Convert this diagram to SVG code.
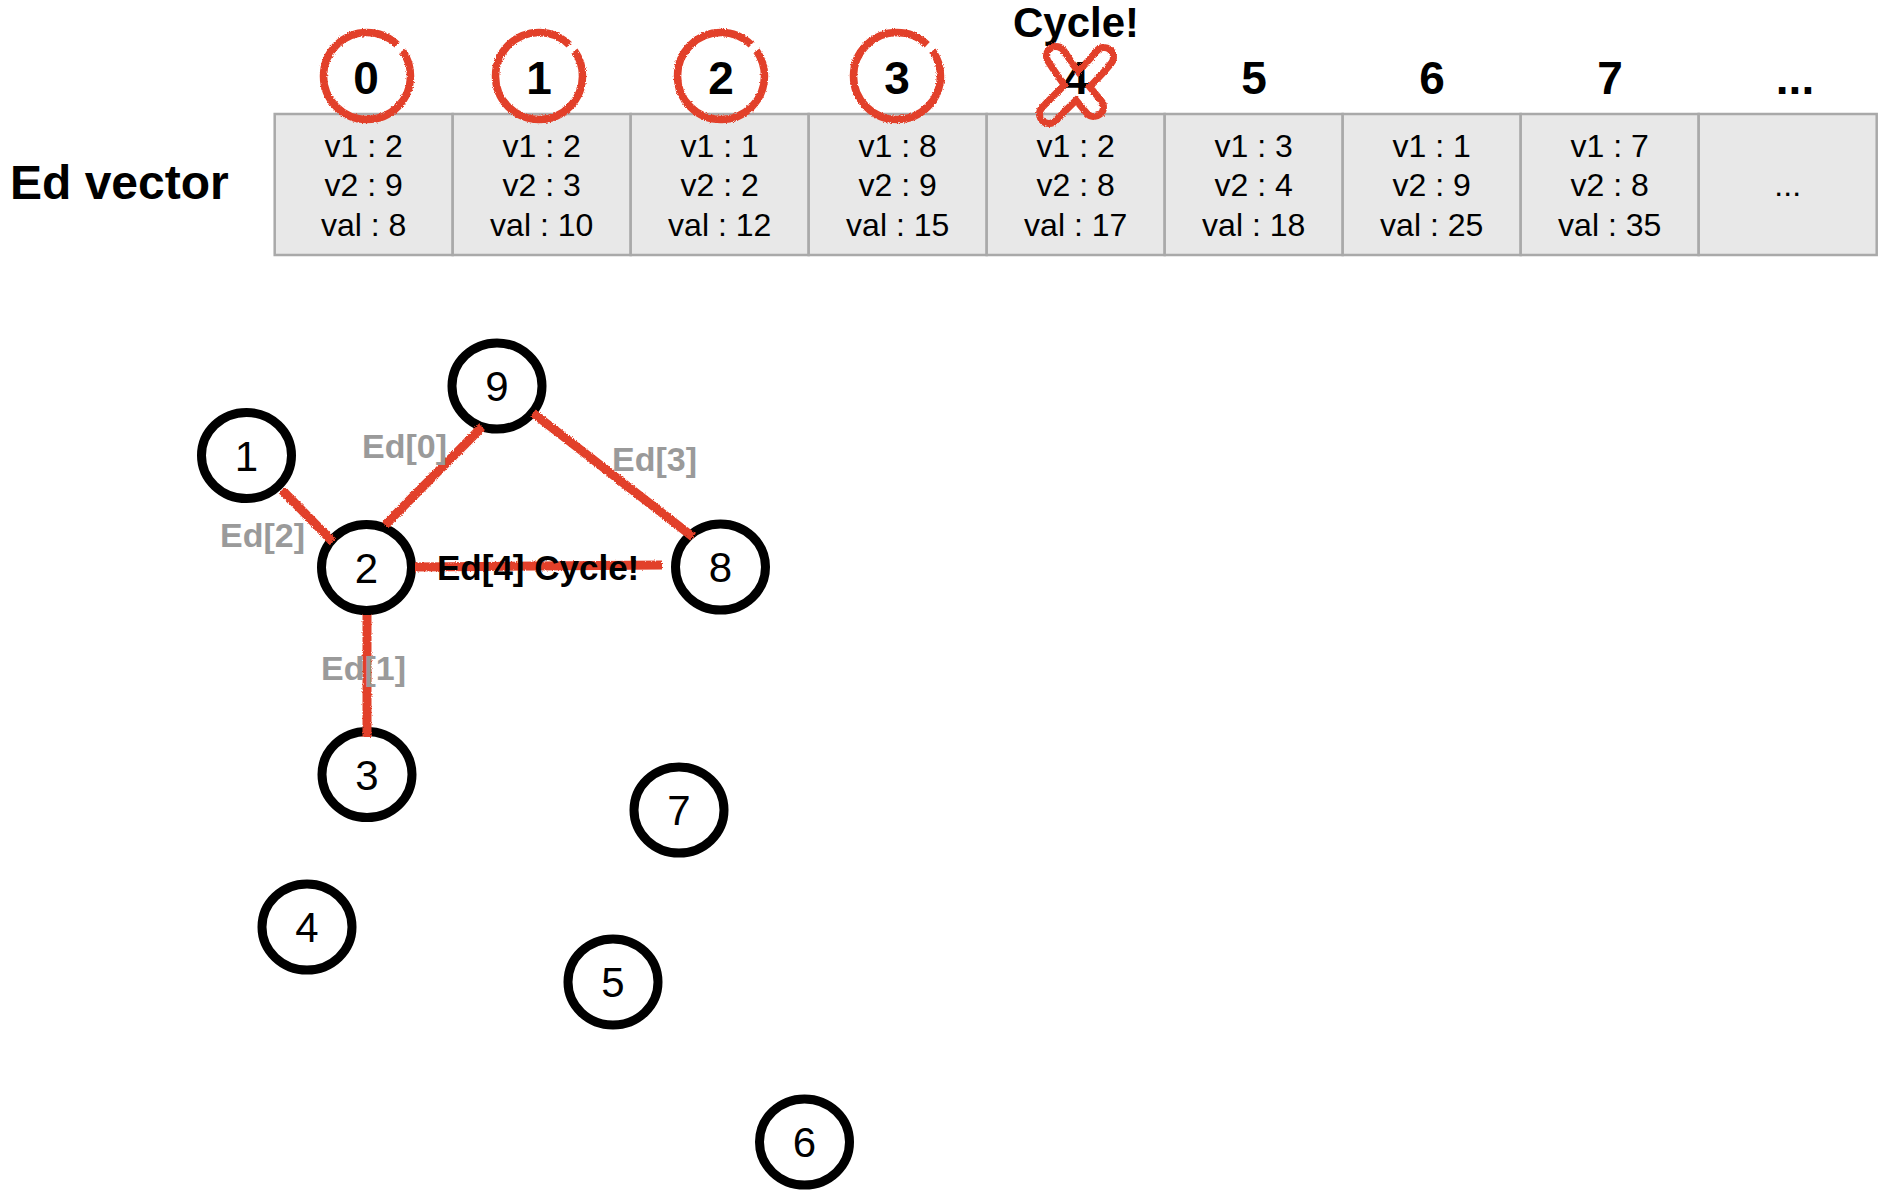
<svg xmlns="http://www.w3.org/2000/svg" width="1904" height="1204" viewBox="0 0 1904 1204">
<style>
.cell{fill:#e8e8e8;stroke:#a9a9a9;stroke-width:2.5}
.ct{font-family:"Liberation Sans",Arial,sans-serif;font-size:32px;fill:#000;text-anchor:middle}
.hd{font-family:"Liberation Sans",Arial,sans-serif;font-size:46px;font-weight:bold;fill:#000;text-anchor:middle}
.title{font-family:"Liberation Sans",Arial,sans-serif;font-size:48px;font-weight:bold;fill:#000}
.ring{fill:#fff;stroke:#000;stroke-width:9}
.nt{font-family:"Liberation Sans",Arial,sans-serif;font-size:42px;fill:#000;text-anchor:middle}
.edge{stroke:#e2412b;stroke-width:9;fill:none;stroke-linecap:butt}
.el{font-family:"Liberation Sans",Arial,sans-serif;font-size:34px;font-weight:bold;fill:#9a9a9a}
.elb{font-family:"Liberation Sans",Arial,sans-serif;font-size:35px;font-weight:bold;fill:#000}
.mark{fill:none;stroke:#e2412b;stroke-width:7.5;stroke-dasharray:238 8 28}
</style>
<defs>
<filter id="rough" filterUnits="userSpaceOnUse" x="0" y="0" width="1904" height="1204">
<feTurbulence type="fractalNoise" baseFrequency="0.9" numOctaves="2" seed="3" result="n"/>
<feDisplacementMap in="SourceGraphic" in2="n" scale="3" xChannelSelector="R" yChannelSelector="G"/>
</filter>
<mask id="xmask" maskUnits="userSpaceOnUse" x="0" y="0" width="1904" height="1204">
<g fill="none" stroke-linecap="round">
<path d="M1104,57 C1090,75 1066,96 1049,114" stroke="#fff" stroke-width="26"/>
<path d="M1056,56 C1068,75 1082,93 1094,107" stroke="#fff" stroke-width="26"/>
<path d="M1104,57 C1090,75 1066,96 1049,114" stroke="#000" stroke-width="12"/>
<path d="M1056,56 C1068,75 1082,93 1094,107" stroke="#000" stroke-width="12"/>
</g>
</mask>
</defs>
<rect width="1904" height="1204" fill="#fff"/>

<g id="ed-vector">
<text class="title" x="10" y="199">Ed vector</text>
<g id="cells">
<rect class="cell" x="274.7" y="114" width="178" height="141"/>
<rect class="cell" x="452.7" y="114" width="178" height="141"/>
<rect class="cell" x="630.7" y="114" width="178" height="141"/>
<rect class="cell" x="808.7" y="114" width="178" height="141"/>
<rect class="cell" x="986.7" y="114" width="178" height="141"/>
<rect class="cell" x="1164.7" y="114" width="178" height="141"/>
<rect class="cell" x="1342.7" y="114" width="178" height="141"/>
<rect class="cell" x="1520.7" y="114" width="178" height="141"/>
<rect class="cell" x="1698.7" y="114" width="178" height="141"/>
</g>
<g id="cell-text">
<text class="ct" x="363.7" y="157">v1 : 2</text><text class="ct" x="363.7" y="196">v2 : 9</text><text class="ct" x="363.7" y="236">val : 8</text>
<text class="ct" x="541.7" y="157">v1 : 2</text><text class="ct" x="541.7" y="196">v2 : 3</text><text class="ct" x="541.7" y="236">val : 10</text>
<text class="ct" x="719.7" y="157">v1 : 1</text><text class="ct" x="719.7" y="196">v2 : 2</text><text class="ct" x="719.7" y="236">val : 12</text>
<text class="ct" x="897.7" y="157">v1 : 8</text><text class="ct" x="897.7" y="196">v2 : 9</text><text class="ct" x="897.7" y="236">val : 15</text>
<text class="ct" x="1075.7" y="157">v1 : 2</text><text class="ct" x="1075.7" y="196">v2 : 8</text><text class="ct" x="1075.7" y="236">val : 17</text>
<text class="ct" x="1253.7" y="157">v1 : 3</text><text class="ct" x="1253.7" y="196">v2 : 4</text><text class="ct" x="1253.7" y="236">val : 18</text>
<text class="ct" x="1431.7" y="157">v1 : 1</text><text class="ct" x="1431.7" y="196">v2 : 9</text><text class="ct" x="1431.7" y="236">val : 25</text>
<text class="ct" x="1609.7" y="157">v1 : 7</text><text class="ct" x="1609.7" y="196">v2 : 8</text><text class="ct" x="1609.7" y="236">val : 35</text>
<text class="ct" x="1787.7" y="196">...</text>
</g>
<g id="indices">
<text class="hd" x="366" y="94">0</text>
<text class="hd" x="539" y="94">1</text>
<text class="hd" x="721" y="94">2</text>
<text class="hd" x="897" y="94">3</text>
<text class="hd" x="1076" y="94">4</text>
<text class="hd" x="1254" y="94">5</text>
<text class="hd" x="1432" y="94">6</text>
<text class="hd" x="1610" y="94">7</text>
<text class="hd" x="1795" y="94">...</text>
</g>
<text class="hd" x="1076" y="37" style="font-size:42px">Cycle!</text>
<g id="marks" filter="url(#rough)">
<circle class="mark" cx="367" cy="76" r="43.5"/>
<circle class="mark" cx="539" cy="76" r="43.5"/>
<circle class="mark" cx="721" cy="76" r="43.5"/>
<circle class="mark" cx="897" cy="76" r="43.5"/>
<rect x="1025" y="35" width="100" height="100" fill="#e2412b" mask="url(#xmask)"/>
</g>
</g>

<g id="node-1"><ellipse class="ring" cx="246.5" cy="455.5" rx="45" ry="43"/><text class="nt" x="246.5" y="470.5">1</text></g>
<g id="node-9"><ellipse class="ring" cx="497" cy="386" rx="45" ry="43"/><text class="nt" x="497" y="401">9</text></g>
<g id="node-2"><ellipse class="ring" cx="366.5" cy="567.5" rx="45" ry="43"/><text class="nt" x="366.5" y="582.5">2</text></g>
<g id="node-8"><ellipse class="ring" cx="720.5" cy="567" rx="45" ry="43"/><text class="nt" x="720.5" y="582">8</text></g>
<g id="node-3"><ellipse class="ring" cx="367" cy="774.5" rx="45" ry="43"/><text class="nt" x="367" y="789.5">3</text></g>
<g id="node-7"><ellipse class="ring" cx="679" cy="810" rx="45" ry="43"/><text class="nt" x="679" y="825">7</text></g>
<g id="node-4"><ellipse class="ring" cx="307" cy="927" rx="45" ry="43"/><text class="nt" x="307" y="942">4</text></g>
<g id="node-5"><ellipse class="ring" cx="613" cy="982" rx="45" ry="43"/><text class="nt" x="613" y="997">5</text></g>
<g id="node-6"><ellipse class="ring" cx="804.5" cy="1142" rx="45" ry="43"/><text class="nt" x="804.5" y="1157">6</text></g>

<g id="connectors">
<g filter="url(#rough)">
<path class="edge" d="M385,525 L482,427"/>
<path class="edge" d="M367,615 L367,737"/>
<path class="edge" d="M282,490 L333,542"/>
<path class="edge" d="M533,413 L693,537"/>
<path class="edge" d="M415,567 L662,565"/>
</g>
<text class="el" x="362" y="458">Ed[0]</text>
<text class="el" x="321" y="680">Ed[1]</text>
<text class="el" x="220" y="547">Ed[2]</text>
<text class="el" x="612" y="471">Ed[3]</text>
<text class="elb" x="437" y="580">Ed[4] Cycle!</text>
</g>
</svg>
